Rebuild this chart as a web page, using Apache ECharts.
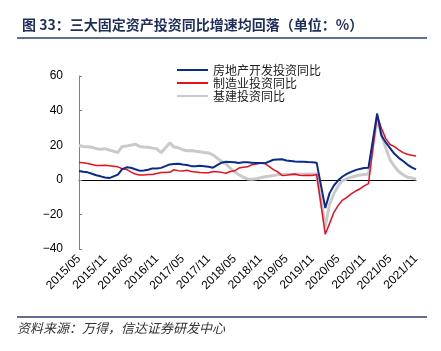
<!DOCTYPE html>
<html lang="zh">
<head>
    <meta charset="UTF-8">
    <title>三大固定资产投资同比增速</title>
    <script src="https://cdn.jsdelivr.net/npm/echarts@6/dist/echarts.min.js"></script>
    <style>
        body { margin: 0; background: #fff; }
    </style>
</head>
<body>
<div id="chart" style="width: 441px;height:351px"></div>
<script>
    // 月份 2015/05 - 2021/11，1月无数据（1-2月合并）
    var months = [];
    for (var y = 2015; y <= 2021; y++) {
        for (var m = 1; m <= 12; m++) {
            if (y == 2015 && m < 5) continue;
            if (y == 2021 && m > 11) continue;
            months.push(y + '/' + (m < 10 ? '0' + m : m));
        }
    }

    var realEstate = [
        5.1, 4.6, 4.3, 3.5, 2.6, 2.0, 1.3, 1.0,
        null, 3.0, 6.2, 7.2, 7.0, 6.1, 5.3, 5.4, 5.8, 6.6, 6.5, 6.9,
        null, 8.9, 9.1, 9.3, 8.8, 8.5, 7.9, 7.9, 8.1, 7.8, 7.5, 7.0,
        null, 9.9, 10.4, 10.3, 10.2, 9.7, 10.2, 10.1, 9.9, 9.7, 9.7, 9.5,
        null, 11.6, 11.8, 11.9, 11.2, 10.9, 10.6, 10.5, 10.5, 10.3, 10.2, 9.9,
        null, -16.3, -7.7, -3.3, -0.3, 1.9, 3.4, 4.6, 5.6, 6.3, 6.8, 7.0,
        null, 38.3, 25.6, 21.6, 18.3, 15.0, 12.7, 10.9, 8.8, 7.2, 6.0
    ];
    var manufacturing = [
        10.0, 9.8, 9.4, 8.9, 8.3, 8.3, 8.4, 8.1,
        null, 7.5, 6.4, 6.0, 4.6, 3.3, 2.8, 2.8, 3.1, 3.1, 3.6, 4.2,
        null, 4.3, 5.8, 5.3, 5.1, 5.5, 4.8, 4.5, 4.2, 4.1, 4.1, 4.8,
        null, 4.3, 3.8, 4.8, 5.2, 6.8, 7.3, 7.5, 8.7, 9.1, 9.5, 9.5,
        null, 5.9, 4.6, 2.5, 2.7, 3.0, 3.3, 2.6, 2.5, 2.6, 2.5, 3.1,
        null, -31.5, -25.2, -18.8, -14.8, -11.7, -10.2, -8.1, -6.5, -5.3, -3.5, -2.2,
        null, 37.3, 29.8, 23.8, 20.4, 19.2, 17.3, 15.7, 14.8, 14.2, 13.7
    ];
    var infrastructure = [
        19.8, 19.3, 19.1, 18.8, 18.0, 17.6, 18.0, 17.2,
        null, 15.8, 19.3, 19.6, 20.0, 20.6, 19.3, 19.0, 18.8, 18.3, 17.9, 15.7,
        null, 21.3, 18.9, 18.5, 17.4, 16.8, 16.9, 16.5, 16.2, 15.8, 15.5, 14.4,
        null, 10.6, 9.2, 6.7, 4.6, 2.9, 1.6, 0.5, 0.3, 0.6, 1.2, 1.8,
        null, 2.5, 3.0, 3.0, 3.2, 3.0, 3.2, 3.3, 3.2, 3.3, 3.4, 3.3,
        null, -27.0, -14.0, -8.0, -3.5, -0.5, 0.5, 1.5, 2.2, 2.8, 3.0, 3.4,
        null, 35.0, 26.0, 18.4, 11.5, 7.8, 4.8, 2.9, 1.5, 1.0, 0.5
    ];
    var seriesNames = ['房地产开发投资同比', '制造业投资同比', '基建投资同比'];

    var chart = echarts.init(document.getElementById('chart'));

    var option = {
        animation: false,
        title: {
            text: '图 33：三大固定资产投资同比增速均回落（单位：%）',
            left: 17,
            top: 13,
            textStyle: {
                color: '#1f2f5c',
                fontSize: 14,
                fontWeight: 'bold',
                fontFamily: 'Noto Sans CJK SC'
            }
        },
        graphic: [{
            type: 'line',
            shape: { x1: 17, y1: 38, x2: 427, y2: 38 },
            style: { stroke: '#2a3f6e', lineWidth: 1.5 }
        }, {
            type: 'line',
            shape: { x1: 17, y1: 317, x2: 427, y2: 317 },
            style: { stroke: '#2a3f6e', lineWidth: 1.5 }
        }, {
            type: 'text',
            left: 17,
            top: 322,
            style: {
                text: '资料来源：万得，信达证券研发中心',
                fill: '#333',
                font: 'italic 13px "Noto Sans CJK SC"'
            }
        }],
        legend: {
            orient: 'vertical',
            left: 172,
            top: 59,
            icon: 'rect',
            itemWidth: 31,
            itemHeight: 2,
            itemGap: 1,
            data: seriesNames,
            textStyle: {
                color: '#222',
                fontSize: 12,
                lineHeight: 12,
                fontFamily: 'Noto Sans CJK SC'
            }
        },
        grid: {
            left: 79,
            right: 25,
            top: 76,
            bottom: 102
        },
        xAxis: [{
            type: 'category',
            data: months,
            boundaryGap: false,
            axisLine: { show: false, onZero: false },
            axisTick: { show: false },
            axisLabel: {
                interval: 5,
                rotate: 45,
                margin: 8,
                color: '#000',
                fontSize: 12,
                fontFamily: 'Liberation Sans'
            }
        }, {
            type: 'category',
            data: months,
            boundaryGap: false,
            position: 'bottom',
            axisLine: { show: true, onZero: true, lineStyle: { color: '#000', width: 1 } },
            axisTick: { show: false },
            axisLabel: { show: false }
        }],
        yAxis: {
            type: 'value',
            min: -40,
            max: 60,
            interval: 20,
            splitLine: { show: false },
            axisLine: { show: true, lineStyle: { color: '#808080', width: 1 } },
            axisTick: { show: true, inside: true, length: 3, lineStyle: { color: '#808080' } },
            axisLabel: {
                margin: 16,
                color: '#000',
                fontSize: 12,
                fontFamily: 'Liberation Sans',
                formatter: function (v) {
                    return String(v).replace('-', '−');
                }
            }
        },
        series: [{
            name: seriesNames[2],
            type: 'line',
            data: infrastructure,
            symbol: 'none',
            connectNulls: true,
            lineStyle: { color: '#cacaca', width: 3 },
            itemStyle: { color: '#cacaca' }
        }, {
            name: seriesNames[1],
            type: 'line',
            data: manufacturing,
            symbol: 'none',
            connectNulls: true,
            lineStyle: { color: '#e8101e', width: 1.5 },
            itemStyle: { color: '#e8101e' }
        }, {
            name: seriesNames[0],
            type: 'line',
            data: realEstate,
            symbol: 'none',
            connectNulls: true,
            lineStyle: { color: '#0a2a8c', width: 2 },
            itemStyle: { color: '#0a2a8c' }
        }]
    };
    chart.setOption(option);
</script>
</body>
</html>
